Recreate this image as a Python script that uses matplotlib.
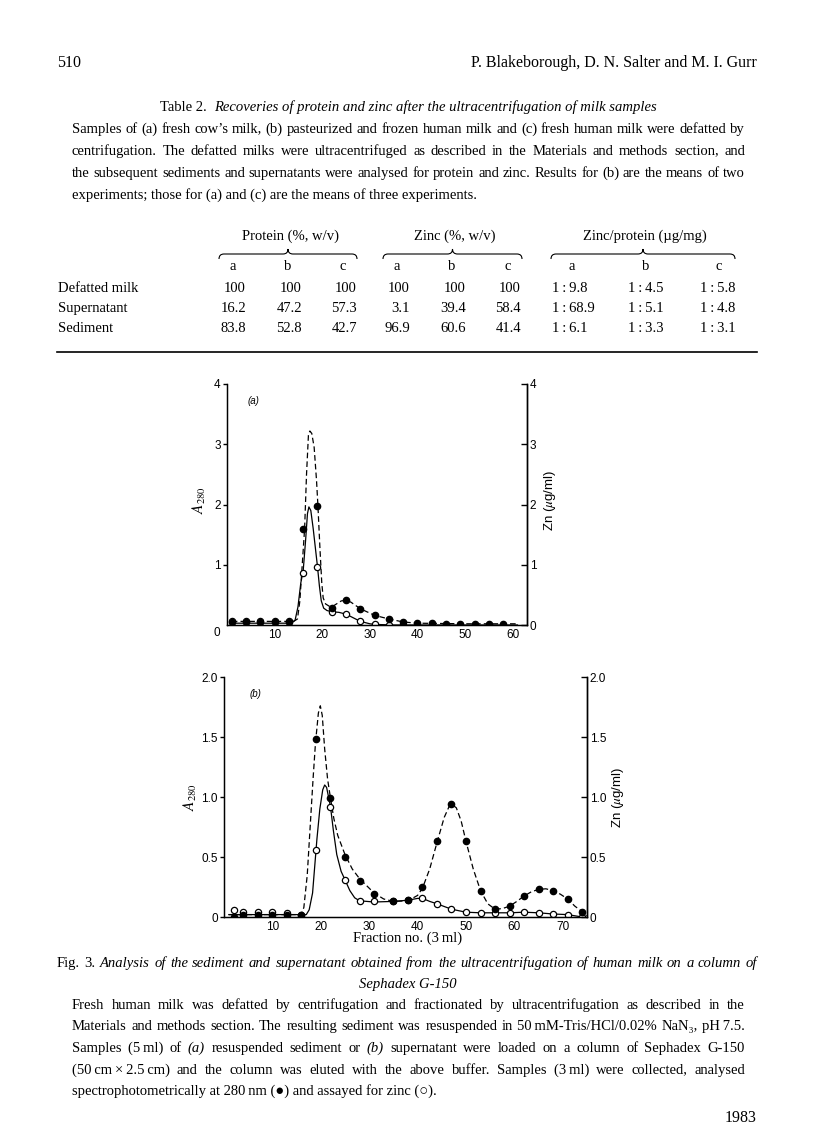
import math
import matplotlib
matplotlib.use('Agg')
import matplotlib.pyplot as plt
from matplotlib.path import Path
from matplotlib.patches import PathPatch
from matplotlib.font_manager import FontProperties

W, H = 816, 1136
SERIF = ['Liberation Serif', 'DejaVu Serif']
SANS = ['Liberation Sans', 'DejaVu Sans']
plt.rcParams['mathtext.fontset'] = 'stix'

# ---- Table 2 ----
row_names = ['Defatted milk', 'Supernatant', 'Sediment']
group_titles = ['Protein (%, w/v)', 'Zinc (%, w/v)', 'Zinc/protein (µg/mg)']
sub_cols = ['a', 'b', 'c']
protein = [['100', '100', '100'], ['16.2', '47.2', '57.3'], ['83.8', '52.8', '42.7']]
zinc = [['100', '100', '100'], ['3.1', '39.4', '58.4'], ['96.9', '60.6', '41.4']]
zinc_protein = [['1:9.8', '1:4.5', '1:5.8'], ['1:68.9', '1:5.1', '1:4.8'], ['1:6.1', '1:3.3', '1:3.1']]

# ---- Fig. 3 (a): resuspended sediment ----
a_frac = [1, 4, 7, 10, 13, 16, 19, 22, 25, 28, 31, 34, 37, 40, 43, 46, 49, 52, 55, 58]
a_a280 = [0.05, 0.05, 0.05, 0.05, 0.05, 1.6, 1.97, 0.29, 0.41, 0.27, 0.16, 0.1, 0.05,
          0.03, 0.03, 0.02, 0.02, 0.01, 0.02, 0.02]
a_zn_frac = [1, 4, 7, 10, 13, 16, 19, 22, 25, 28, 31, 34, 37]
a_zn = [0.07, 0.07, 0.07, 0.07, 0.07, 0.87, 0.97, 0.22, 0.18, 0.06, 0.01, 0.0, 0.0]
# hand-drawn curves
a_a280_curve_x = [1, 14, 14.8, 15.3, 15.8, 16.3, 16.7, 17.1, 17.4, 17.8, 18.3, 18.8, 19.1,
                  19.5, 19.9, 20.2, 20.7, 21.5, 22, 23, 24, 25, 26, 28, 31, 34, 37, 40, 50, 61]
a_a280_curve_y = [0.06, 0.06, 0.1, 0.4, 1.0, 1.6, 2.5, 3.15, 3.22, 3.18, 2.95, 2.4, 1.97,
                  1.3, 0.7, 0.45, 0.35, 0.31, 0.3, 0.35, 0.4, 0.41, 0.38, 0.27, 0.16, 0.1,
                  0.05, 0.03, 0.02, 0.02]
a_zn_curve_x = [1, 13.5, 14.3, 14.9, 15.5, 16, 16.5, 16.9, 17.2, 17.6, 18.1, 18.6, 19, 19.4,
                19.8, 20.3, 21, 22, 23.5, 25, 26.5, 28, 30, 31, 35, 61]
a_zn_curve_y = [0.03, 0.03, 0.08, 0.3, 0.7, 0.9, 1.4, 1.85, 1.96, 1.9, 1.6, 1.25, 0.97, 0.65,
                0.4, 0.28, 0.24, 0.22, 0.21, 0.18, 0.12, 0.06, 0.02, 0.01, 0.0, 0.0]

# ---- Fig. 3 (b): supernatant ----
b_frac = [2, 4, 7, 10, 13, 16, 19, 22, 25, 28, 31, 35, 38, 41, 44, 47, 50, 53, 56, 59, 62,
          65, 68, 71, 74]
b_a280 = [0.0, 0.02, 0.02, 0.02, 0.02, 0.02, 1.48, 0.99, 0.50, 0.30, 0.19, 0.13, 0.14,
          0.25, 0.63, 0.94, 0.63, 0.22, 0.07, 0.09, 0.175, 0.23, 0.22, 0.15, 0.045]
b_zn = [0.06, 0.04, 0.04, 0.04, 0.03, 0.02, 0.56, 0.92, 0.31, 0.135, 0.13, 0.13, 0.14,
        0.16, 0.11, 0.065, 0.04, 0.035, 0.035, 0.035, 0.045, 0.035, 0.025, 0.02, 0.0]
b_a280_curve_x = [1, 16, 16.5, 17.2, 17.8, 18.4, 18.9, 19.5, 19.9, 20.3, 20.8, 21.4, 22,
                  22.7, 23.5, 25, 26.5, 28, 31, 33, 35, 38, 40, 41, 42.5, 44, 45.5, 46.5,
                  47.2, 48, 49, 50, 51.5, 53, 54.5, 56, 57.5, 59, 60.5, 62, 63.5, 65, 66.5,
                  68, 69.5, 71, 72.5, 74, 75]
b_a280_curve_y = [0.02, 0.02, 0.08, 0.35, 0.75, 1.15, 1.45, 1.7, 1.76, 1.68, 1.4, 1.15,
                  0.99, 0.82, 0.68, 0.52, 0.4, 0.32, 0.2, 0.15, 0.13, 0.135, 0.18, 0.24,
                  0.4, 0.62, 0.83, 0.92, 0.935, 0.91, 0.8, 0.63, 0.4, 0.22, 0.11, 0.065,
                  0.07, 0.09, 0.13, 0.175, 0.21, 0.23, 0.235, 0.22, 0.19, 0.15, 0.09,
                  0.045, 0.01]
b_zn_curve_x = [1, 17, 17.6, 18.3, 18.8, 19.2, 19.8, 20.4, 20.8, 21.2, 21.6, 22, 22.6,
                23.3, 24.2, 25, 26, 27, 28, 31, 35, 38, 40, 41, 42.5, 44, 47, 50, 53, 56,
                59, 62, 65, 68, 71, 74]
b_zn_curve_y = [0.02, 0.02, 0.06, 0.2, 0.45, 0.65, 0.9, 1.06, 1.1, 1.08, 1.0, 0.92, 0.72,
                0.52, 0.38, 0.31, 0.22, 0.16, 0.135, 0.125, 0.13, 0.14, 0.155, 0.155, 0.13,
                0.11, 0.065, 0.04, 0.035, 0.035, 0.035, 0.04, 0.035, 0.025, 0.02, 0.0]


fig = plt.figure(figsize=(W / 100, H / 100), dpi=100)
page = fig.add_axes([0, 0, 1, 1])
page.set_xlim(0, W)
page.set_ylim(H, 0)
page.axis('off')
renderer = fig.canvas.get_renderer()


def baseline_shift(s, size, style):
    # Agg rounds each text bitmap on its own; shift the word so every word
    # of a line ends up with its baseline on the same pixel row
    try:
        from matplotlib.backends.backend_agg import get_hinting_flag
        font = renderer._prepare_font(FontProperties(family=SERIF, style=style, size=size))
        font.set_text(s, 0, flags=get_hinting_flag())
        d = font.get_descent() / 64
        ymax = font.get_width_height()[1] / 64 - d
        return math.floor(ymax + d) - math.floor(ymax) - d
    except Exception:
        return 0.0


def put(x, y, s, size=10.5, style='normal', ha='left'):
    y = round(y) + baseline_shift(s, size, style)
    return page.text(x, y, s, fontsize=size, style=style, ha=ha, va='baseline',
                     family=SERIF)


def width_of(s, size, style):
    t = page.text(0, 0, s, fontsize=size, style=style, family=SERIF)
    w = t.get_window_extent(renderer).width
    t.remove()
    return w


def runs(y, parts, xc, size=10.5):
    # several text pieces (roman / italic) centred as one line
    widths = [width_of(s, size, st) for s, st in parts]
    x = xc - sum(widths) / 2
    for (s, st), w in zip(parts, widths):
        put(x, y, s, size, st)
        x += w


def justify(y, line, x0, x1, size=10.5, italic_from=None):
    words, styles = [], []
    for i, w in enumerate(line.split(' ')):
        style = 'normal'
        if w.startswith('_') and w.endswith('_') and len(w) > 2:
            w, style = w[1:-1], 'italic'
        if italic_from is not None and i >= italic_from:
            style = 'italic'
        words.append(w)
        styles.append(style)
    widths = [width_of(w, size, st) for w, st in zip(words, styles)]
    gap = (x1 - x0 - sum(widths)) / (len(words) - 1)
    x = x0
    for w, st, wd in zip(words, styles, widths):
        put(x, y, w, size, st)
        x += wd + gap


def brace(x0, x1, y):
    xc = (x0 + x1) / 2
    verts = [(x0, y + 5), (x0, y), (x0 + 5, y), (xc - 5, y), (xc, y), (xc, y - 5),
             (xc, y), (xc + 5, y), (x1 - 5, y), (x1, y), (x1, y + 5)]
    codes = [Path.MOVETO, Path.CURVE3, Path.CURVE3, Path.LINETO, Path.CURVE3, Path.CURVE3,
             Path.CURVE3, Path.CURVE3, Path.LINETO, Path.CURVE3, Path.CURVE3]
    page.add_patch(PathPatch(Path(verts, codes), fill=False, lw=0.8, color='black'))


# running head
put(57, 67, '510', 11.5)
put(757, 67, 'P. Blakeborough, D. N. Salter and M. I. Gurr', 11.5, ha='right')

# table title and legend
runs(111, [('Table 2.  ', 'normal'),
           ('Recoveries of protein and zinc after the ultracentrifugation of milk samples',
            'italic')], 408)
tab_lines = [
    'Samples of (a) fresh cow\u2019s milk, (b) pasteurized and frozen human milk and (c) fresh human milk were defatted by',
    'centrifugation. The defatted milks were ultracentrifuged as described in the Materials and methods section, and',
    'the subsequent sediments and supernatants were analysed for protein and zinc. Results for (b) are the means of two',
]
for i, ln in enumerate(tab_lines):
    justify(133 + 22 * i, ln, 72, 745)
put(72, 133 + 22 * 3, 'experiments; those for (a) and (c) are the means of three experiments.')

# table body
group_span = [(219, 357), (383, 522), (551, 735)]
col_right = [[246, 302, 357], [410, 466, 521]]
col_left_ratio = [552, 628, 700]
col_letter_x = [[233, 288, 343], [397, 452, 508], [572, 646, 719]]
for g, (title, (x0, x1)) in enumerate(zip(group_titles, group_span)):
    put((x0 + x1) / 2 + 2, 240, title, ha='center')
    brace(x0, x1, 254)
    for k, letter in enumerate(sub_cols):
        put(col_letter_x[g][k], 270, letter, ha='center')
row_y = [292, 312, 332]
for r, name in enumerate(row_names):
    put(58, row_y[r], name)
    for k in range(3):
        put(col_right[0][k], row_y[r], protein[r][k], ha='right')
        put(col_right[1][k], row_y[r], zinc[r][k], ha='right')
        put(col_left_ratio[k], row_y[r], zinc_protein[r][k].replace(':', '\u2009:\u2009'))

page.plot([57, 757], [352, 352], color='black', lw=1.2)


def chromatogram(rect, xmax, ymax, yticks, ylabels, rticks, rlabels, xticks,
                 dots_x, dots_y, zn_x, zn_y, cx1, cy1, cx2, cy2, tag, corner_zero):
    ax = fig.add_axes([rect[0] / W, 1 - rect[3] / H, (rect[2] - rect[0]) / W,
                       (rect[3] - rect[1]) / H])
    ax.set_xlim(0, xmax)
    ax.set_ylim(0, ymax)
    ax.patch.set_alpha(0)
    ax.spines['top'].set_visible(False)
    for sp in ['left', 'right', 'bottom']:
        ax.spines[sp].set_linewidth(1.0)
    ax.plot(cx1, cy1, color='black', lw=0.9, dashes=(4.5, 2.5))
    ax.plot(cx2, cy2, color='black', lw=0.9)
    ax.plot(zn_x, zn_y, 'o', ms=4.5, mfc='white', mec='black', mew=0.9)
    ax.plot(dots_x, dots_y, 'o', ms=4.5, color='black')
    ax.set_xticks(xticks)
    ax.set_xticklabels([str(t) for t in xticks], family=SANS, fontsize=8.5)
    ax.tick_params(axis='x', length=0, pad=3)
    ax.set_yticks(yticks)
    ax.set_yticklabels(ylabels, family=SANS, fontsize=8.5)
    ax.tick_params(axis='y', direction='out', length=3, width=1, pad=1.5)
    if corner_zero:
        ax.annotate('0', xy=(0, 0), xycoords='axes fraction', xytext=(-7, -6),
                    textcoords='offset points', ha='center', va='center', family=SANS,
                    fontsize=8.5)
    ax.text(0.07, 0.93, tag, transform=ax.transAxes, family=SANS, style='italic',
            fontsize=7, va='center')
    ax2 = ax.twinx()
    ax2.set_ylim(0, ymax)
    ax2.spines['top'].set_visible(False)
    ax2.spines['right'].set_linewidth(1.0)
    ax2.set_yticks(rticks)
    ax2.set_yticklabels(rlabels, family=SANS, fontsize=8.5)
    ax2.tick_params(axis='y', direction='in', length=4, width=1, pad=2)
    return ax, ax2


ax_a, ax_a2 = chromatogram((227, 384, 527, 625), 63, 4, [1, 2, 3, 4], ['1', '2', '3', '4'],
                           [0, 1, 2, 3, 4], ['0', '1', '2', '3', '4'],
                           [10, 20, 30, 40, 50, 60],
                           a_frac, a_a280, a_zn_frac, a_zn, a_a280_curve_x, a_a280_curve_y,
                           a_zn_curve_x, a_zn_curve_y, '(a)', True)
ax_b, ax_b2 = chromatogram((224, 677, 587, 917), 75, 2, [0, 0.5, 1.0, 1.5, 2.0],
                           ['0', '0.5', '1.0', '1.5', '2.0'], [0, 0.5, 1.0, 1.5, 2.0],
                           ['0', '0.5', '1.0', '1.5', '2.0'], [10, 20, 30, 40, 50, 60, 70],
                           b_frac, b_a280, b_frac, b_zn, b_a280_curve_x, b_a280_curve_y,
                           b_zn_curve_x, b_zn_curve_y, '(b)', False)

for y_mid, x_a, x_z in [(500, 199, 550), (797, 190, 618)]:
    page.text(x_a, y_mid, '$A_{280}$', rotation=90, ha='center', va='center', fontsize=11)
    page.text(x_z, y_mid, 'Zn ($\\mu$g/ml)', rotation=90, ha='center', va='center',
              family=SANS, fontsize=9.5)

put(408, 942, 'Fraction no. (3\u2009ml)', ha='center')

# figure legend
justify(967, 'Fig. 3. Analysis of the sediment and supernatant obtained from the '
             'ultracentrifugation of human milk on a column of', 57, 757, italic_from=2)
put(408, 988, 'Sephadex G-150', style='italic', ha='center')
fig_lines = [
    'Fresh human milk was defatted by centrifugation and fractionated by ultracentrifugation as described in the',
    'Materials and methods section. The resulting sediment was resuspended in 50\u2009mM-Tris/HCl/0.02% NaN\u2083, pH\u20097.5.',
    'Samples (5\u2009ml) of _(a)_ resuspended sediment or _(b)_ supernatant were loaded on a column of Sephadex G-150',
    '(50\u2009cm\u2009\u00d7\u20092.5\u2009cm) and the column was eluted with the above buffer. Samples (3\u2009ml) were collected, analysed',
]
for i, ln in enumerate(fig_lines):
    justify(1009 + 21.5 * i, ln, 72, 745)
put(72, 1009 + 21.5 * 4, 'spectrophotometrically at 280\u2009nm (\u25cf) and assayed for zinc (\u25cb).')

put(757, 1122, '1983', 11.5, ha='right')

fig.savefig('out.png', dpi=100)
